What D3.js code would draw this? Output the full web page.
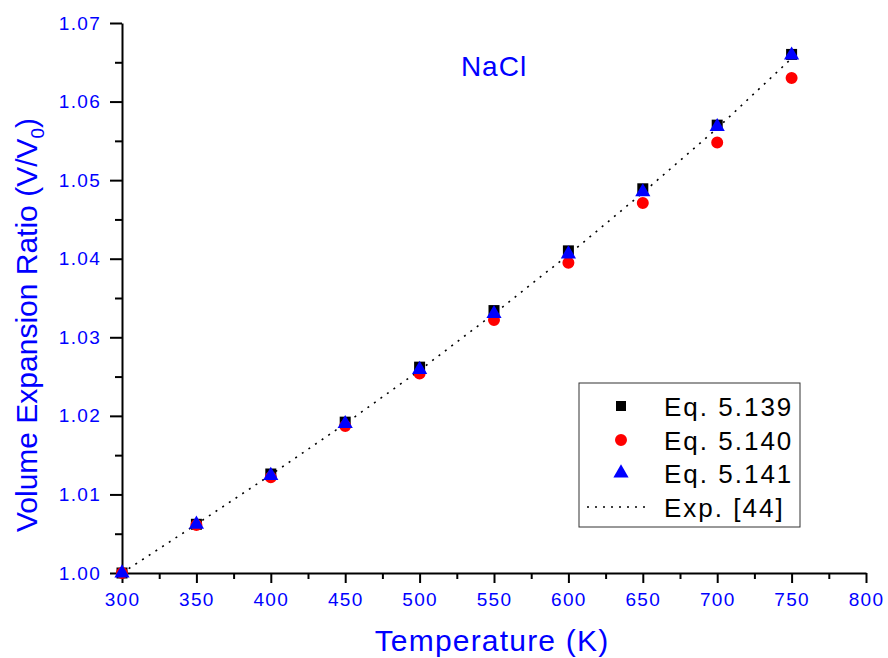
<!DOCTYPE html>
<html>
<head>
<meta charset="utf-8">
<script src="https://cdn.jsdelivr.net/npm/d3@7"></script>
<style>
  body { margin: 0; background: #fff; }
  svg { font-family: Arial, "Liberation Sans", sans-serif; }
  .axis path, .axis line { stroke: #000; stroke-width: 2; }
</style>
</head>
<body>
<svg width="888" height="658"></svg>
<script>
const temps = [300, 350, 400, 450, 500, 550, 600, 650, 700, 750]
const eq139 = [1.0000, 1.0062, 1.0126, 1.0192, 1.0262, 1.0334, 1.0410, 1.0489, 1.0570, 1.0660]
const eq140 = [1.0000, 1.0061, 1.0122, 1.0187, 1.0254, 1.0322, 1.0395, 1.0471, 1.0548, 1.0630]
const eq141 = [1.0000, 1.0062, 1.0124, 1.0190, 1.0259, 1.0330, 1.0406, 1.0485, 1.0568, 1.0659]
const expTemps = [300, 350, 400, 450, 500, 550, 600, 650, 700, 750]
const expVals = [1.0000, 1.0062, 1.0125, 1.0190, 1.0258, 1.0330, 1.0405, 1.0484, 1.0566, 1.0655]
const xTicks = [300, 350, 400, 450, 500, 550, 600, 650, 700, 750, 800]
const yTicks = [1.00, 1.01, 1.02, 1.03, 1.04, 1.05, 1.06, 1.07]
const legendLabels = ['Eq. 5.139', 'Eq. 5.140', 'Eq. 5.141', 'Exp. [44]']

const svg = d3.select('svg')
const plotLeft = 122, plotTop = 23, plotRight = 866, plotBottom = 573

const x = d3.scaleLinear().domain([300, 800]).range([plotLeft, plotRight])
const y = d3.scaleLinear().domain([1.00, 1.07]).range([plotBottom, plotTop])

// minor ticks first
svg.append('g')
  .attr('class', 'axis')
  .attr('transform', `translate(0, ${plotBottom})`)
  .call(d3.axisBottom(x).tickValues(d3.range(325, 800, 50)).tickSize(6).tickSizeOuter(0).tickFormat(''))
  .select('.domain').remove()

svg.append('g')
  .attr('class', 'axis')
  .attr('transform', `translate(${plotLeft}, 0)`)
  .call(d3.axisLeft(y).tickValues(d3.range(1.005, 1.07, 0.01)).tickSize(7).tickSizeOuter(0).tickFormat(''))
  .select('.domain').remove()

// major
const styleLabels = g => g.selectAll('.tick text')
  .style('font-family', 'Arial, "Liberation Sans", sans-serif')
  .style('font-size', '19px')
  .style('letter-spacing', '1.3px')
  .style('fill', '#0000ff')

svg.append('g')
  .attr('class', 'axis')
  .attr('transform', `translate(0, ${plotBottom})`)
  .call(d3.axisBottom(x).tickValues(xTicks).tickSize(10).tickSizeOuter(0).tickPadding(10).tickFormat(d3.format('d')))
  .call(styleLabels)

svg.append('g')
  .attr('class', 'axis')
  .attr('transform', `translate(${plotLeft}, 0)`)
  .call(d3.axisLeft(y).tickValues(yTicks).tickSize(12).tickSizeOuter(0).tickPadding(9).tickFormat(d3.format('.2f')))
  .call(styleLabels)

// experimental dotted line
const line = d3.line().x(d => x(d[0])).y(d => y(d[1]))
svg.append('path')
  .datum(expTemps.map((t, i) => [t, expVals[i]]))
  .attr('d', line)
  .attr('fill', 'none')
  .attr('stroke', '#000')
  .attr('stroke-width', 1.6)
  .attr('stroke-dasharray', '2,6')

const sym = {
  square: d3.symbol().type(d3.symbolSquare).size(121),
  circle: d3.symbol().type(d3.symbolCircle).size(113),
  triangle: d3.symbol().type(d3.symbolTriangle).size(100)
}

svg.append('g').selectAll('path')
  .data(temps.map((t, i) => [t, eq139[i]]))
  .enter().append('path')
  .attr('d', sym.square())
  .attr('transform', d => `translate(${x(d[0])}, ${y(d[1])})`)
  .attr('fill', '#000')

svg.append('g').selectAll('path')
  .data(temps.map((t, i) => [t, eq140[i]]))
  .enter().append('path')
  .attr('d', sym.circle())
  .attr('transform', d => `translate(${x(d[0])}, ${y(d[1])})`)
  .attr('fill', '#ff0000')

svg.append('g').selectAll('path')
  .data(temps.map((t, i) => [t, eq141[i]]))
  .enter().append('path')
  .attr('d', sym.triangle())
  .attr('transform', d => `translate(${x(d[0])}, ${y(d[1])})`)
  .attr('fill', '#0000ff')

// legend
const lg = svg.append('g').attr('transform', 'translate(579, 383)')
lg.append('rect')
  .attr('width', 221).attr('height', 144)
  .attr('fill', '#fff').attr('stroke', '#333').attr('stroke-width', 1)

const rowY = [23, 57, 90, 124]
lg.append('path').attr('d', sym.square.size(100)()).attr('transform', `translate(42, ${rowY[0]})`).attr('fill', '#000')
lg.append('path').attr('d', sym.circle.size(113)()).attr('transform', `translate(42, ${rowY[1]})`).attr('fill', '#ff0000')
lg.append('path').attr('d', sym.triangle.size(100)()).attr('transform', `translate(42, ${rowY[2]})`).attr('fill', '#0000ff')
lg.append('line')
  .attr('x1', 8).attr('x2', 70).attr('y1', rowY[3]).attr('y2', rowY[3])
  .attr('stroke', '#000').attr('stroke-width', 1.3).attr('stroke-dasharray', '2,6')

lg.selectAll('text.leg')
  .data(legendLabels)
  .enter().append('text')
  .attr('class', 'leg')
  .attr('x', 85)
  .attr('y', (d, i) => rowY[i] + 10)
  .attr('font-size', 26)
  .attr('letter-spacing', 2)
  .attr('fill', '#000')
  .text(d => d)

// titles
svg.append('text')
  .attr('x', 494).attr('y', 76)
  .attr('text-anchor', 'middle')
  .attr('font-size', 28)
  .attr('letter-spacing', 1)
  .attr('fill', '#0000ff')
  .text('NaCl')

svg.append('text')
  .attr('x', 492).attr('y', 651)
  .attr('text-anchor', 'middle')
  .attr('font-size', 30)
  .attr('letter-spacing', 1.2)
  .attr('fill', '#0000ff')
  .text('Temperature (K)')

const yt = svg.append('text')
  .attr('transform', 'translate(37, 325) rotate(-90)')
  .attr('text-anchor', 'middle')
  .attr('font-size', 30)
  .attr('fill', '#0000ff')
yt.append('tspan').text('Volume Expansion Ratio (V/V')
yt.append('tspan').attr('font-size', 19).attr('dy', 7).text('0')
yt.append('tspan').attr('dy', -7).text(')')
</script>
</body>
</html>
